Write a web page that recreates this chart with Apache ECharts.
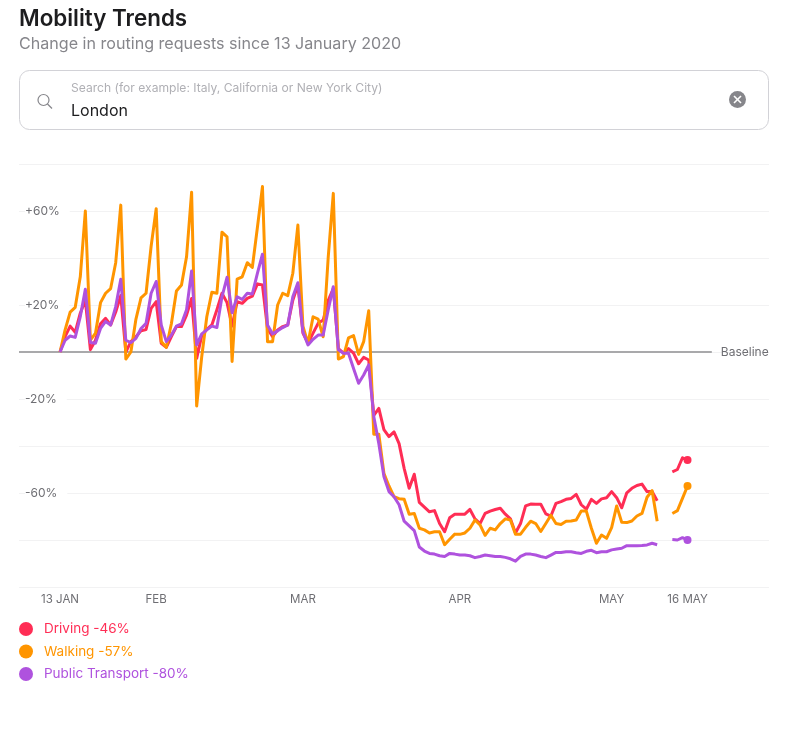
<!DOCTYPE html>
<html>
<head>
<meta charset="utf-8">
<title>Mobility Trends</title>
<script src="https://cdn.jsdelivr.net/npm/echarts@6/dist/echarts.min.js"></script>
<style>
  html, body { margin: 0; padding: 0; background: #fff; }
  #chart { width: 799px; height: 744px; }
</style>
</head>
<body>
<div id="chart"></div>
<script>
// days since 13 Jan, one value per day, null = no data (11-12 May)
var driving = [
  0, 6.5, 11, 8.4, 16.5, 22, 1, 5, 12, 14.3,
  11.5, 17, 24, 0, 4.4, 6.5, 9, 9.6, 18.6, 21.4,
  3.7, 2, 6.5, 10.8, 10.8, 15.7, 22.8, -2.7, 7, 9.6,
  11.5, 18, 25, 21, 11, 21.4, 20.7, 22.8, 23.8, 29,
  28.5, 10, 6.5, 9.4, 10.8, 11.5, 22, 28.5, 8, 3.7,
  8, 12.2, 13.6, 22, 27, 1.5, -0.5, 1.5, -0.5, -5,
  -2.3, -3.4, -27, -24, -33, -36, -34, -39, -49.5, -58,
  -52, -64, -66, -68, -67.5, -73, -76.5, -70.5, -69, -69,
  -69, -67, -71, -73, -68.7, -67.7, -67, -66.5, -69, -71,
  -77, -73, -65.5, -64.7, -64.8, -64.8, -68.9, -69.8, -64.4, -63.7,
  -62.7, -62.3, -60.6, -65, -66.9, -62.7, -64.4, -62.5, -62, -59.4,
  -62, -66.3, -59.9, -58, -56.8, -56.2, -59.4, -59.4, -63.3,
  null, null, -51, -50, -45, -46
];
var walking = [
  0, 9.4, 17, 19, 32, 60, 5, 8, 21, 25,
  27, 38, 62.5, -3, 0, 14, 23, 25, 45, 61,
  4.5, 2, 12, 26, 28.5, 40.5, 68, -23, -2, 15,
  25.4, 25, 51, 49, -4, 31, 32, 38, 36, 53,
  70.4, 4.4, 4.4, 20, 25, 24, 33.5, 54, 11, 3.7,
  15, 14, 6.5, 40.5, 67.5, -3, -2, 6, 7, -1,
  4.4, 17.6, -35, -35, -51.6, -57, -61.6, -62.4, -62.7, -69,
  -68.7, -75, -75.7, -77, -76.5, -76.5, -82, -79.7, -77.5, -77.6,
  -77, -75, -71.5, -73.6, -78, -75, -75.7, -73, -71, -71.5,
  -77.5, -77.5, -74.6, -72, -73, -76.4, -73, -69.5, -73, -73.4,
  -72, -71.9, -71.5, -67.7, -67.7, -75, -81.4, -77.9, -79.3, -74.7,
  -65.5, -72.5, -72.6, -71.9, -69.8, -68.7, -61.8, -59, -72,
  null, null, -68.7, -67.5, -62.3, -57
];
var transit = [
  0, 5, 6.8, 6.2, 15, 26.7, 4, 3.7, 10, 13,
  11.5, 19.3, 31, 5, 4, 5.8, 10, 12.2, 25, 30,
  11.5, 4.4, 7.2, 11, 12, 18, 34.5, 3, 7.7, 9.4,
  11, 10.4, 23.5, 31.8, 16.7, 23.5, 22.4, 25, 24.7, 33.5,
  41.6, 11.5, 7.7, 9, 10.4, 11.5, 23.5, 29.5, 8.6, 3,
  5.4, 7.2, 7.2, 18, 27.8, 1, -0.5, -0.5, -7, -13.3,
  -9.8, -5.5, -27.5, -39, -53, -59.4, -61.6, -65, -72, -74,
  -76, -83, -84.7, -85.7, -86, -86.7, -87, -85.7, -86, -86.4,
  -86.4, -86.7, -87.5, -87, -86.4, -86.7, -87, -87, -87.4, -88,
  -89, -87, -86, -86, -86.4, -87, -87.5, -86.4, -85.3, -85.3,
  -85, -85, -85.4, -85.7, -84.8, -84.4, -85.4, -85, -85, -84.2,
  -83.8, -83.5, -82.4, -82.4, -82.4, -82.3, -82.1, -81.4, -82,
  null, null, -79.8, -80, -79, -80
];
var seriesNames = ['Driving', 'Walking', 'Public Transport'];
var latest = ['-46%', '-57%', '-80%'];
var colors = ['#ff2d55', '#ff9500', '#af52de'];
var xTickDays = [0, 19, 48, 79, 109, 124];
var xTickLabels = ['13 JAN', 'FEB', 'MAR', 'APR', 'MAY', '16 MAY'];
var yTicks = [60, 20, -20, -60];
var yTickLabels = ['+60%', '+20%', '-20%', '-60%'];
var baselineDays = [-8.11, 128.8];

var chart = echarts.init(document.getElementById('chart'), null, {renderer: 'canvas'});
var font = 'Inter, "Liberation Sans", sans-serif';

function toPoints(values) {
  return values.map(function(v, i) {
    return [i, v];
  });
}

function lineSeries(name, values, color, z) {
  var last = values.length - 1;
  return {
    name: name,
    type: 'line',
    data: toPoints(values),
    z: z,
    color: color,
    connectNulls: false,
    showAllSymbol: true,
    symbol: function(v, params) {
      return params.dataIndex === last ? 'circle' : 'none';
    },
    symbolSize: 8,
    itemStyle: {color: color},
    lineStyle: {color: color, width: 3, join: 'round'},
    animation: false
  };
}

var option = {
  backgroundColor: '#fff',
  animation: false,
  title: {
    text: 'Mobility Trends',
    subtext: 'Change in routing requests since 13 January 2020',
    left: 19 - 5,
    top: 3,
    itemGap: 6,
    textStyle: {fontFamily: font, fontSize: 22.4, fontWeight: 600, color: '#1d1d1f'},
    subtextStyle: {fontFamily: font, fontSize: 16.1, color: '#86868b'}
  },
  legend: {
    data: seriesNames,
    orient: 'vertical',
    left: 19,
    top: 622,
    icon: 'circle',
    itemWidth: 14,
    itemHeight: 14,
    itemGap: 8.5,
    padding: 0,
    selectedMode: false,
    textStyle: {color: 'inherit', fontFamily: font, fontSize: 13.5, padding: [2, 0, 0, 6]},
    formatter: function(name) {
      return name + ' ' + latest[seriesNames.indexOf(name)];
    }
  },
  grid: {left: 19, right: 30, top: 164, height: 423},
  xAxis: {
    type: 'value',
    min: -8.11,
    max: 140.1,
    splitLine: {show: false},
    axisLine: {show: false},
    axisTick: {show: false},
    axisLabel: {
      customValues: xTickDays,
      hideOverlap: false,
      margin: 7,
      color: '#6e6e73',
      fontFamily: font,
      fontSize: 11.5,
      formatter: function(v) {
        return xTickLabels[xTickDays.indexOf(v)];
      }
    }
  },
  yAxis: {
    type: 'value',
    min: -100,
    max: 80,
    interval: 20,
    axisLine: {show: false},
    axisTick: {show: false},
    splitLine: {lineStyle: {color: '#f2f2f3', width: 1}},
    axisLabel: {
      inside: true,
      customValues: yTicks,
      margin: 6,
      color: '#6e6e73',
      fontFamily: font,
      fontSize: 12,
      backgroundColor: '#fff',
      padding: [2, 10, 2, 0],
      formatter: function(v) {
        return yTickLabels[yTicks.indexOf(v)];
      }
    }
  },
  series: [
    {
      name: 'Baseline',
      type: 'line',
      z: 1,
      data: baselineDays.map(function(d) { return [d, 0]; }),
      symbol: 'none',
      lineStyle: {color: '#a9a9ab', width: 2},
      endLabel: {
        show: true,
        formatter: 'Baseline',
        distance: 9,
        color: '#6e6e73',
        fontFamily: font,
        fontSize: 12
      }
    },
    lineSeries(seriesNames[0], driving, colors[0], 2),
    lineSeries(seriesNames[1], walking, colors[1], 3),
    lineSeries(seriesNames[2], transit, colors[2], 4)
  ],
  graphic: [
    // search box
    {type: 'rect', shape: {x: 19.5, y: 70.5, width: 749, height: 59, r: 10},
      style: {fill: '#fff', stroke: '#d2d2d7', lineWidth: 1}},
    {type: 'circle', shape: {cx: 43.5, cy: 100, r: 5.5},
      style: {fill: 'none', stroke: '#86868b', lineWidth: 1.2}},
    {type: 'line', shape: {x1: 47.5, y1: 104, x2: 52, y2: 108.5},
      style: {stroke: '#86868b', lineWidth: 1.2}},
    {type: 'text', x: 71, y: 82, style: {text: 'Search (for example: Italy, California or New York City)',
      font: '12.1px ' + font, fill: '#b0b0b5'}},
    {type: 'text', x: 71, y: 103, style: {text: 'London', font: '16px ' + font, fill: '#1d1d1f'}},
    {type: 'circle', shape: {cx: 737.5, cy: 99.5, r: 8.5}, style: {fill: '#86868b'}},
    {type: 'line', shape: {x1: 734, y1: 96, x2: 741, y2: 103}, style: {stroke: '#fff', lineWidth: 1.6}},
    {type: 'line', shape: {x1: 741, y1: 96, x2: 734, y2: 103}, style: {stroke: '#fff', lineWidth: 1.6}}
  ]
};

chart.setOption(option);
</script>
</body>
</html>
